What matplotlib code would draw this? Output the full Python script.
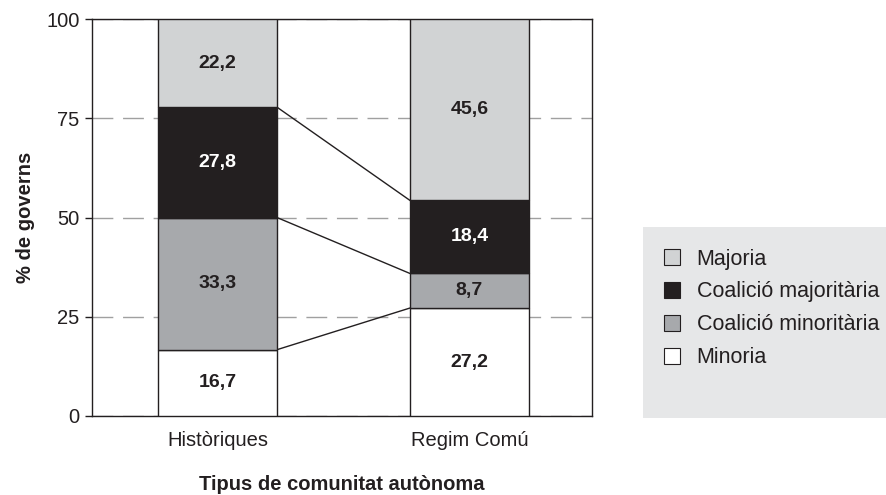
import numpy as np
import matplotlib.pyplot as plt
from matplotlib.lines import Line2D

plt.rcParams['font.family'] = ['Liberation Sans', 'DejaVu Sans']

groups = ['Històriques', 'Regim Comú']
categories = ['Minoria', 'Coalició minoritària', 'Coalició majoritària', 'Majoria']
values = {
    'Minoria': [16.7, 27.2],
    'Coalició minoritària': [33.3, 8.7],
    'Coalició majoritària': [27.8, 18.4],
    'Majoria': [22.2, 45.6],
}
colors = {
    'Minoria': '#ffffff',
    'Coalició minoritària': '#a7a9ac',
    'Coalició majoritària': '#231f20',
    'Majoria': '#d1d3d4',
}
text_colors = {
    'Minoria': '#231f20',
    'Coalició minoritària': '#231f20',
    'Coalició majoritària': '#ffffff',
    'Majoria': '#231f20',
}

fs = 14.5

fig = plt.figure(figsize=(8.86, 4.95), dpi=100)
ax = fig.add_axes([0.1038, 0.1596, 0.5643, 0.802])

x = np.arange(len(groups))
width = 0.472
bottom = np.zeros(len(groups))
for cat in categories:
    v = np.array(values[cat])
    ax.bar(x, v, width, bottom=bottom, color=colors[cat], edgecolor='#231f20',
           linewidth=1, zorder=3)
    for xi, vi, bi in zip(x, v, bottom):
        ax.text(xi, bi + vi / 2, f'{vi:.1f}'.replace('.', ','), ha='center', va='center',
                fontsize=14, fontweight='bold', color=text_colors[cat], zorder=4)
    bottom = bottom + v
    # connector lines between the two bars at each cumulative boundary
    if cat != 'Majoria':
        ax.plot([x[0] + width / 2, x[1] - width / 2], [bottom[0], bottom[1]],
                color='#231f20', linewidth=1, zorder=2)

ax.set_xlim(-0.498, 1.486)
ax.set_ylim(0, 100)
ax.set_yticks([0, 25, 50, 75, 100])
ax.set_xticks(x)
ax.set_xticklabels(groups)
ax.tick_params(axis='x', length=0, pad=11, labelsize=fs, colors='#231f20')
ax.tick_params(axis='y', length=5, width=1, pad=4, labelsize=fs, colors='#231f20')
ax.yaxis.grid(True, color='#a0a0a0', linestyle=(0, (15, 7)), linewidth=1, zorder=1)
for s in ax.spines.values():
    s.set_color('#231f20')
    s.set_linewidth(1)

ax.set_ylabel('% de governs', fontsize=fs, fontweight='bold', labelpad=8, color='#231f20')
ax.set_xlabel('Tipus de comunitat autònoma', fontsize=fs, fontweight='bold', labelpad=18,
              color='#231f20')

# legend with grey panel
bg = plt.Rectangle((0.7257, 0.1556), 0.2743, 0.386, transform=fig.transFigure,
                   facecolor='#e6e7e8', edgecolor='none')
fig.patches.append(bg)
handles = [Line2D([], [], marker='s', linestyle='none', markersize=11,
                  markerfacecolor=colors[c], markeredgecolor='#231f20', markeredgewidth=0.8)
           for c in categories[::-1]]
fig.legend(handles, categories[::-1], loc='center left', bbox_to_anchor=(0.734, 0.377),
           frameon=False, fontsize=15.5, labelspacing=0.55, handletextpad=0.65,
           handlelength=1.0, labelcolor='#231f20', borderpad=0)

fig.savefig('out.png', dpi=100)
